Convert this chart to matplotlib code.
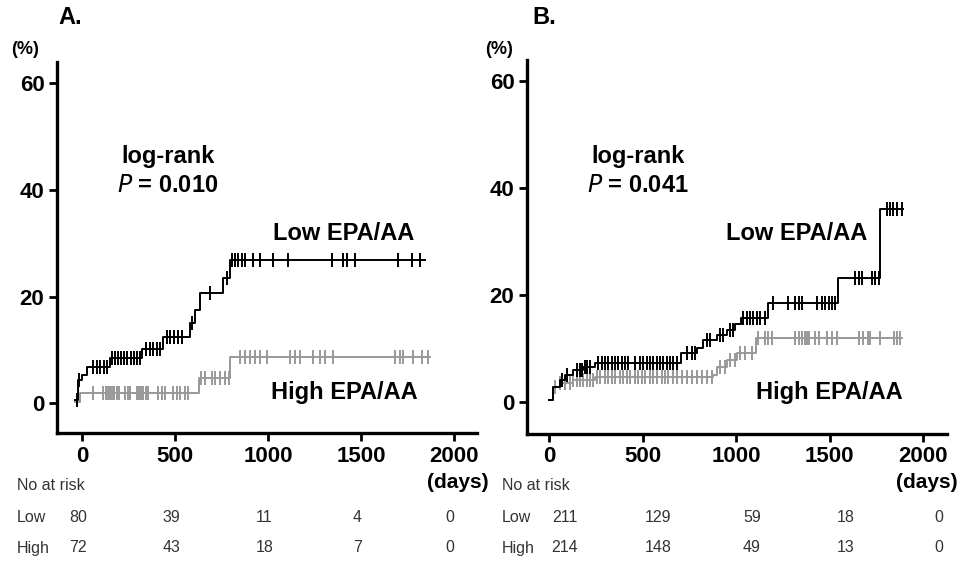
import numpy as np
import matplotlib
matplotlib.use('Agg')
import matplotlib.pyplot as plt
import matplotlib.transforms as mtransforms

plt.rcParams['font.family'] = ['Liberation Sans', 'DejaVu Sans']

# -Daten----------------------------------------------------------------------#

# Panel A: step times (days) and cumulative incidence (%)
a_low_t = [-38, -22, 0, 27, 151, 323, 435, 581, 608, 634, 758, 796, 1844]
a_low_y = [0.6, 4.3, 5.2, 6.8, 8.4, 10.1, 12.4, 15.0, 17.4, 20.6, 23.4, 26.8, 26.8]
a_low_cens = [-27, -16, 59, 81, 97, 118, 134, 161, 177, 194, 210, 226, 242, 263, 280, 296, 312,
              344, 366, 382, 403, 419, 457, 473, 495, 516, 538, 591, 688, 780,
              806, 823, 839, 860, 876, 919, 957, 1027, 1107, 1344, 1403, 1425, 1468,
              1699, 1774, 1817]

a_high_t = [-38, -11, 629, 796, 1871]
a_high_y = [0.2, 1.9, 4.7, 8.6, 8.6]
a_high_cens = [61, 115, 127, 138, 151, 163, 174, 187, 199, 231, 246, 258, 294, 307, 317, 329,
               343, 357, 410, 428, 446, 491, 509, 527, 554, 571,
               640, 661, 699, 715, 742, 769, 790,
               849, 876, 903, 930, 957, 995, 1118, 1145, 1172, 1242, 1280, 1306, 1349,
               1683, 1710, 1726, 1779, 1828, 1860]

# Panel B
b_low_t = [0, 21, 59, 86, 128, 182, 246, 706, 792, 824, 898, 952, 995, 1027, 1171, 1546, 1770, 1893]
b_low_y = [0.4, 2.8, 4.1, 5.0, 6.0, 6.5, 7.3, 9.2, 10.1, 11.6, 12.5, 13.5, 14.6, 15.7, 18.5, 23.2,
           36.0, 36.0]
b_low_cens = [68, 95, 148, 166, 175, 193, 201, 219, 264, 282, 300, 317, 335, 353, 371, 389, 406,
              424, 460, 487, 504, 522, 540, 558, 576, 594, 611, 629, 647, 665, 683, 736, 763,
              781, 843, 861, 915, 932, 968, 985, 1039, 1059, 1075, 1093, 1111, 1129, 1155,
              1199, 1280, 1316, 1334, 1352, 1432, 1459, 1477, 1495, 1512, 1530, 1637, 1655,
              1672, 1726, 1744, 1762, 1808, 1824, 1840, 1861, 1888]

b_high_t = [0, 21, 59, 128, 246, 877, 898, 952, 1005, 1107, 1888]
b_high_y = [0.4, 2.8, 3.5, 4.1, 4.7, 5.0, 6.5, 7.9, 9.2, 12.0, 12.0]
b_high_cens = [32, 59, 86, 112, 130, 148, 166, 184, 202, 219, 237, 255, 273, 300, 317, 335, 353,
               380, 398, 415, 433, 460, 478, 496, 513, 540, 558, 576, 602, 620, 638, 665, 683,
               709, 736, 763, 790, 816, 843, 870, 915, 941, 968, 995, 1021, 1048, 1086,
               1119, 1155, 1173, 1191, 1316, 1334, 1352, 1370, 1379, 1388, 1423, 1441, 1486,
               1512, 1539, 1655, 1681, 1708, 1717, 1770, 1842, 1859, 1877]

risk_days = [0, 500, 1000, 1500, 2000]
a_risk_low = [80, 39, 11, 4, 0]
a_risk_high = [72, 43, 18, 7, 0]
b_risk_low = [211, 129, 59, 18, 0]
b_risk_high = [214, 148, 49, 13, 0]

# -Funktionen-----------------------------------------------------------------#

W, H = 960.0, 562.0


def fx(x):
    return x / W


def fy(y):
    return 1 - y / H


def km(ax, t, y, cens, color):
    t = np.asarray(t, float)
    y = np.asarray(y, float)
    ax.step(t, y, where='post', color=color, lw=1.4)
    c = np.asarray(cens, float)
    idx = np.searchsorted(t, c, side='right') - 1
    ax.plot(c, y[idx], ls='none', marker='|', ms=10, mew=1.4, color=color)


def style(ax, xlim, ylim):
    ax.set_xlim(*xlim)
    ax.set_ylim(*ylim)
    for s in ['top', 'right']:
        ax.spines[s].set_visible(False)
    for s in ['left', 'bottom']:
        ax.spines[s].set_linewidth(2.4)
    ax.set_xticks([0, 500, 1000, 1500, 2000])
    ax.set_yticks([0, 20, 40, 60])
    ax.tick_params(width=2, length=6, labelsize=16, pad=3)
    for lab in ax.get_xticklabels() + ax.get_yticklabels():
        lab.set_fontweight('bold')


fig = plt.figure(figsize=(9.6, 5.62), dpi=100)

axA = fig.add_axes([fx(57), 1 - 433 / H, 420 / W, (433 - 62) / H])
axB = fig.add_axes([fx(527), 1 - 434 / H, 420 / W, (434 - 60) / H])

km(axA, a_high_t, a_high_y, a_high_cens, '#999999')
km(axA, a_low_t, a_low_y, a_low_cens, 'black')
style(axA, (-134, 2124), (-5.6, 64))

km(axB, b_high_t, b_high_y, b_high_cens, '#999999')
km(axB, b_low_t, b_low_y, b_low_cens, 'black')
style(axB, (-118, 2128), (-6.0, 63.9))

# -Beschriftung---------------------------------------------------------------#

bold = dict(fontweight='bold', color='black')
fig.text(fx(58), fy(18), 'A.', fontsize=17, va='center', ha='left', **bold)
fig.text(fx(532), fy(18), 'B.', fontsize=17, va='center', ha='left', **bold)
fig.text(fx(25), fy(50), '(%)', fontsize=13, va='center', ha='center', **bold)
fig.text(fx(499), fy(50), '(%)', fontsize=13, va='center', ha='center', **bold)

fig.text(fx(168), fy(157), 'log-rank', fontsize=17, ha='center', va='center', **bold)
fig.text(fx(168), fy(185), r'$\bf{\it{P}}$ = 0.010', fontsize=17, ha='center', va='center', **bold)
fig.text(fx(638), fy(157), 'log-rank', fontsize=17, ha='center', va='center', **bold)
fig.text(fx(638), fy(185), r'$\bf{\it{P}}$ = 0.041', fontsize=17, ha='center', va='center', **bold)

fig.text(fx(344), fy(233), 'Low EPA/AA', fontsize=17, ha='center', va='center', **bold)
fig.text(fx(344), fy(393), 'High EPA/AA', fontsize=17, ha='center', va='center', **bold)
fig.text(fx(797), fy(233), 'Low EPA/AA', fontsize=17, ha='center', va='center', **bold)
fig.text(fx(829), fy(393), 'High EPA/AA', fontsize=17, ha='center', va='center', **bold)

fig.text(fx(489), fy(482), '(days)', fontsize=15, ha='right', va='center', **bold)
fig.text(fx(958), fy(482), '(days)', fontsize=15, ha='right', va='center', **bold)

# Risikotabelle
reg = dict(fontsize=11.5, color='#333333', va='center')
for ax, x0, off, low, high in [(axA, 17, -20, a_risk_low, a_risk_high),
                               (axB, 502, 85, b_risk_low, b_risk_high)]:
    fig.text(fx(x0), fy(486), 'No at risk', ha='left', **reg)
    fig.text(fx(x0), fy(518), 'Low', ha='left', **reg)
    fig.text(fx(x0), fy(548), 'High', ha='left', **reg)
    tr = mtransforms.blended_transform_factory(ax.transData, fig.transFigure)
    for d, nl, nh in zip(risk_days, low, high):
        fig.text(d + off, fy(518), str(nl), ha='center', transform=tr, **reg)
        fig.text(d + off, fy(548), str(nh), ha='center', transform=tr, **reg)

plt.savefig('out.png', dpi=100)
